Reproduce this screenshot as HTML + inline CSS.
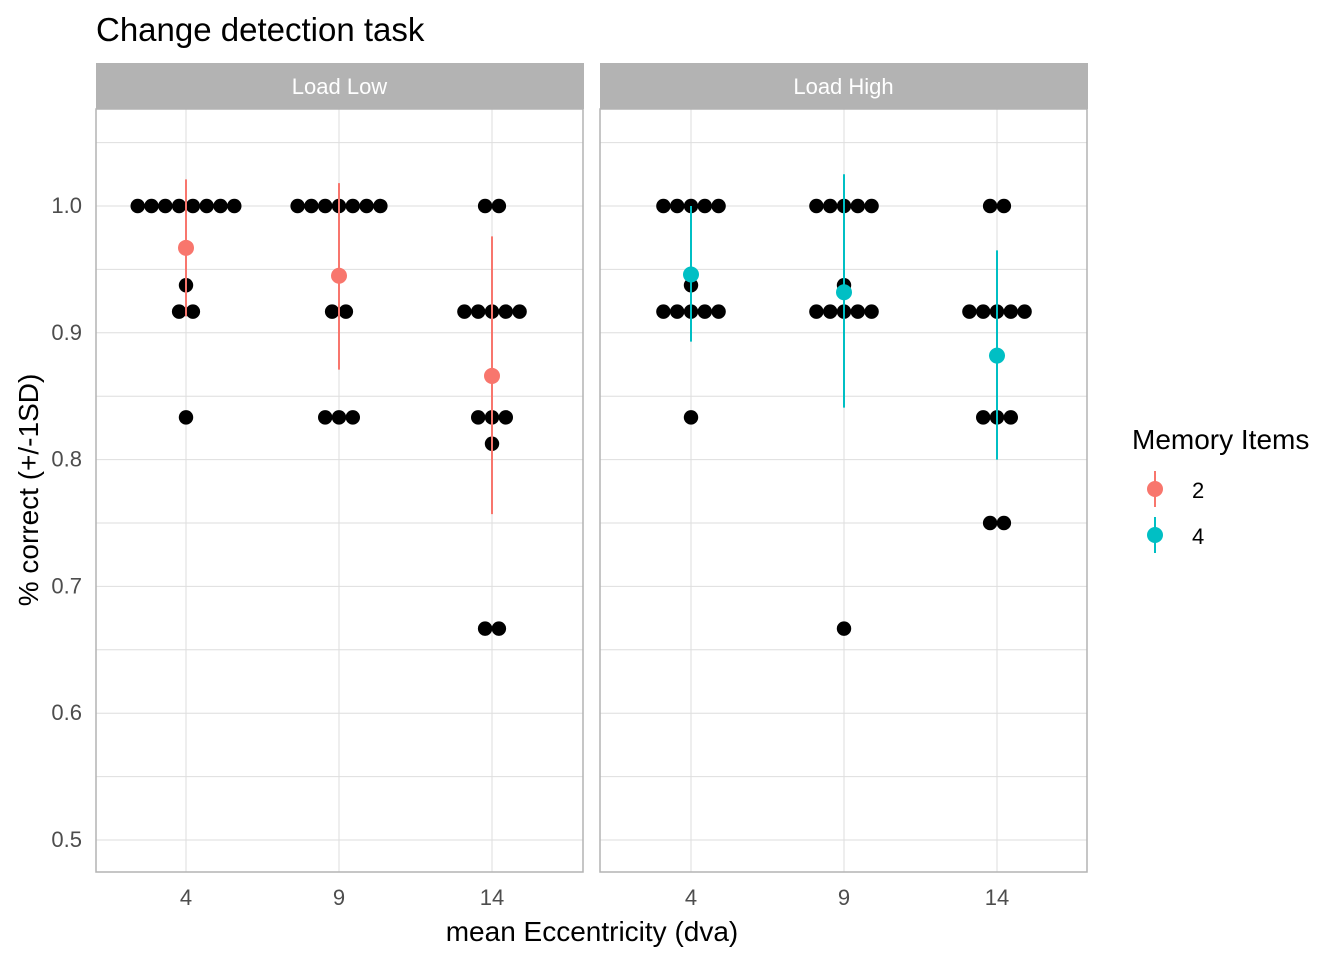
<!DOCTYPE html>
<html><head><meta charset="utf-8"><style>
body{margin:0;background:#fff;}
svg text{font-family:"Liberation Sans",Arial,sans-serif;}
</style></head><body>
<svg id="chart" width="1344" height="960" xmlns="http://www.w3.org/2000/svg">
<rect width="1344" height="960" fill="#fff"/>
<text x="96" y="41" font-size="33" fill="#000">Change detection task</text>
<g id="panels"></g>
<text x="592" y="941" font-size="28" text-anchor="middle" fill="#000">mean Eccentricity (dva)</text>
<text transform="translate(38,490) rotate(-90)" font-size="28" text-anchor="middle" fill="#000">% correct (+/-1SD)</text>
<g>
<text x="1132" y="449" font-size="28" fill="#000">Memory Items</text>
<g><line x1="1155" y1="471" x2="1155" y2="507" stroke="#F8766D" stroke-width="2"/><circle cx="1155" cy="489" r="8" fill="#F8766D"/><text x="1192" y="498" font-size="22" fill="#000">2</text></g>
<g><line x1="1155" y1="517" x2="1155" y2="553" stroke="#00BFC4" stroke-width="2"/><circle cx="1155" cy="535" r="8" fill="#00BFC4"/><text x="1192" y="544" font-size="22" fill="#000">4</text></g>
</g>
</svg>
<script>
const panelNames=["Load Low","Load High"];
const categories=[4,9,14];
const yTicks=[0.5,0.6,0.7,0.8,0.9,1.0];
const yTickLabels=["0.5","0.6","0.7","0.8","0.9","1.0"];
const dotsLow=[[[1.0,8],[0.9375,1],[0.9167,2],[0.8333,1]],[[1.0,7],[0.9167,2],[0.8333,3]],[[1.0,2],[0.9167,5],[0.8333,3],[0.8125,1],[0.6667,2]]];
const dotsHigh=[[[1.0,5],[0.9375,1],[0.9167,5],[0.8333,1]],[[1.0,5],[0.9375,1],[0.9167,5],[0.6667,1]],[[1.0,2],[0.9167,5],[0.8333,3],[0.75,2]]];
const meanLow=[0.967,0.945,0.866];
const lowerLow=[0.913,0.871,0.757];
const upperLow=[1.021,1.018,0.976];
const meanHigh=[0.946,0.932,0.882];
const lowerHigh=[0.893,0.841,0.800];
const upperHigh=[1.000,1.025,0.965];
const colors=["#F8766D","#00BFC4"];
const NS="http://www.w3.org/2000/svg";
const g=document.getElementById('panels');
function mk(t,a,p){const e=document.createElementNS(NS,t);for(const k in a)e.setAttribute(k,a[k]);(p||g).appendChild(e);return e;}
const yTop=109,yBot=872;
function Y(v){return 206+(1-v)*1268;}
const panelX=[96,600],pw=487;
function X(p,c){return panelX[p]+90+p+(c-4)*30.6;}
const allDots=[dotsLow,dotsHigh],means=[meanLow,meanHigh],lows=[lowerLow,lowerHigh],ups=[upperLow,upperHigh];
for(let p=0;p<2;p++){
  const pg=mk('g',{});
  
  
  const strip=mk('rect',{x:panelX[p],y:63,width:pw+1,height:46,fill:'#B3B3B3'},pg);
  
  const st=mk('text',{x:panelX[p]+pw/2,y:94,'font-size':22,'text-anchor':'middle',fill:'#fff'},pg);st.textContent=panelNames[p];
  
  for(let v=0.45;v<=1.08;v+=0.05){const yy=Y(v);if(yy<yTop||yy>yBot)continue;
    const l=mk('line',{x1:panelX[p],x2:panelX[p]+pw,y1:yy,y2:yy,stroke:'#DEDEDE','stroke-width':1},pg);
    }
  categories.forEach(c=>{const l=mk('line',{x1:X(p,c),x2:X(p,c),y1:yTop,y2:yBot,stroke:'#DEDEDE','stroke-width':1},pg);
    
    const t=mk('text',{x:X(p,c),y:905,'font-size':22,'text-anchor':'middle',fill:'#4D4D4D'},pg);t.textContent=c;
    });
  const fr=mk('rect',{x:panelX[p],y:yTop,width:pw,height:yBot-yTop,fill:'none',stroke:'#B3B3B3','stroke-width':1.5},pg);
  
  categories.forEach((c,ci)=>{
    allDots[p][ci].forEach(([v,n])=>{for(let k=0;k<n;k++){
      const cx=X(p,c)+(k-(n-1)/2)*13.8;
      const d=mk('circle',{cx:cx,cy:Y(v),r:7.2,fill:'#000'},pg);
      }});
  });
  categories.forEach((c,ci)=>{
    const l=mk('line',{x1:X(p,c),x2:X(p,c),y1:Y(ups[p][ci]),y2:Y(lows[p][ci]),stroke:colors[p],'stroke-width':2},pg);
    
    const m=mk('circle',{cx:X(p,c),cy:Y(means[p][ci]),r:8,fill:colors[p]},pg);
    
  });
}
yTicks.forEach((v,i)=>{const t=mk('text',{x:82,y:Y(v)+7,'font-size':22,'text-anchor':'end',fill:'#4D4D4D'});t.textContent=yTickLabels[i];
  });
</script>
</body></html>
